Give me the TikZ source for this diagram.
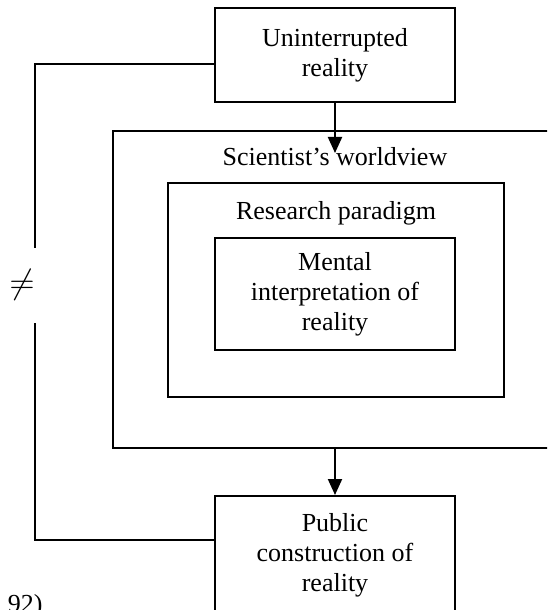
\documentclass[tikz,border=0pt]{standalone}
\usepackage{fontspec}
\setmainfont{Liberation Serif}
\usetikzlibrary{arrows.meta,positioning}
\tikzset{
  box/.style={draw, line width=1pt, align=center, inner sep=0pt},
  title/.style={anchor=base, inner sep=0pt},
  flow/.style={line width=1pt, -{Triangle[length=8pt,width=7pt]}},
  fb/.style={line width=1pt},
}
\begin{document}
\begin{tikzpicture}[x=0.5pt, y=-0.5pt, font=\fontsize{13}{15}\selectfont]
  \useasboundingbox (0,0) rectangle (547,610);
  \clip (0,0) rectangle (547,610);
  % === Uninterrupted reality ===
  \node[box, minimum width=120pt, minimum height=47pt] (uninter) at (335,55) {Uninterrupted\\reality};
  % === Scientist's worldview (nested frames) ===
  \node[box, minimum width=222pt, minimum height=158.5pt] (world) at (335,289.5) {};
  \node[title] (worldlbl) at ([yshift=-17.5pt]world.north) {Scientist's worldview};
  \node[box, minimum width=168pt, minimum height=107pt] (paradigm) at (336,290) {};
  \node[title] (paradigmlbl) at ([yshift=-18.5pt]paradigm.north) {Research paradigm};
  \node[box, minimum width=120pt, minimum height=56pt] (mental) at (335,294) {Mental\\interpretation of\\reality};
  % === Public construction ===
  \node[box, minimum width=120pt, minimum height=59pt] (public) at (335,555) {Public\\construction of\\reality};
  % === Arrows ===
  \coordinate (wvin) at (335,153);
  \draw[flow] (uninter.south) -- (wvin);
  \draw[flow] (world.south) -- (public.north);
  % === Feedback line with not-equal ===
  \coordinate (fbtop) at (35,64);
  \coordinate (gaptop) at (35,248);
  \coordinate (gapbot) at (35,323);
  \coordinate (fbbot) at (35,540);
  \node[font=\fontsize{18}{20}\selectfont] (neq) at (22,285) {$\neq$};
  \draw[fb] (uninter.west |- fbtop) -- (fbtop) -- (gaptop);
  \draw[fb] (gapbot) -- (fbbot) -- (public.west |- fbbot);
  % source, cut off at the page edge
  \node[anchor=base east, inner sep=0pt] (source) at (43,612) {92)};
\end{tikzpicture}
\end{document}
